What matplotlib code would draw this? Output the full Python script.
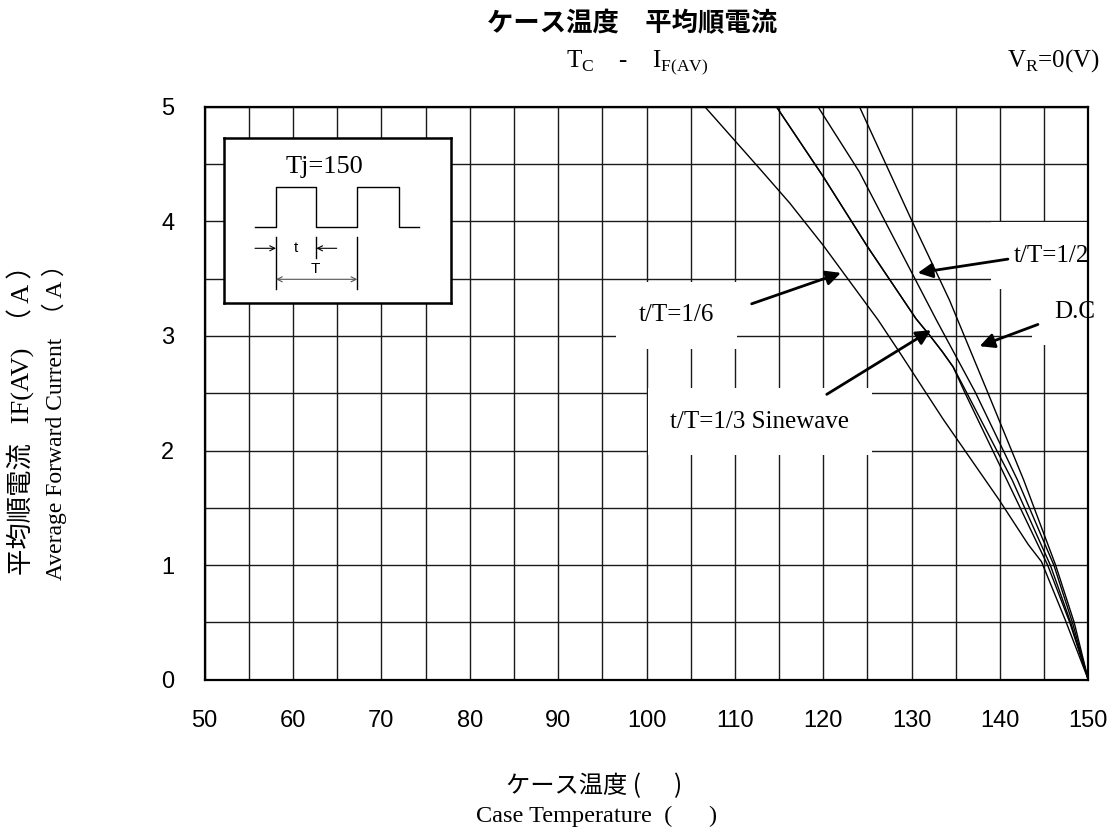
import numpy as np
import matplotlib
matplotlib.use("Agg")
import matplotlib.pyplot as plt
from matplotlib.ticker import MultipleLocator

plt.rcParams["font.family"] = ["Liberation Sans", "Noto Sans CJK JP"]
plt.rcParams["mathtext.fontset"] = "custom"
plt.rcParams["mathtext.rm"] = "Liberation Serif"

SERIF = ["Liberation Serif", "Noto Sans CJK JP"]
GOTHIC = ["Noto Sans CJK JP", "DejaVu Sans"]

# curves: case temperature (C) vs average forward current (A)
t16_T = [106.6, 112.8, 116.2, 120.0, 126.2, 128.7, 133.6, 139.9, 143.2, 144.7, 147.4, 150.0]
t16_I = [5.0, 4.46, 4.16, 3.79, 3.14, 2.85, 2.27, 1.57, 1.18, 1.03, 0.52, 0.0]

t13_T = [114.7, 120.0, 125.0, 130.5, 132.1, 133.5, 134.7, 136.0, 140.8, 145.4, 147.9, 150.0]
t13_I = [5.0, 4.39, 3.78, 3.15, 3.0, 2.86, 2.73, 2.51, 1.74, 1.0, 0.5, 0.0]

sine_T = [114.7, 120.0, 125.0, 130.5, 132.1, 133.5, 134.7, 136.2, 141.4, 145.7, 148.0, 150.0]
sine_I = [5.0, 4.39, 3.78, 3.15, 3.0, 2.86, 2.73, 2.51, 1.74, 1.0, 0.5, 0.0]

t12_T = [119.4, 124.1, 132.8, 137.2, 142.0, 146.1, 148.2, 150.0]
t12_I = [5.0, 4.43, 3.14, 2.51, 1.74, 1.0, 0.5, 0.0]

dc_T = [124.1, 130.0, 133.2, 134.3, 138.6, 142.7, 146.3, 148.4, 150.0]
dc_I = [5.0, 4.01, 3.49, 3.31, 2.51, 1.74, 1.0, 0.5, 0.0]

curves = [(t16_T, t16_I), (t13_T, t13_I), (sine_T, sine_I), (t12_T, t12_I), (dc_T, dc_I)]

# callouts: label, text position, arrow tail, arrow tip (data coords)
labels = ["t/T=1/2", "D.C", "t/T=1/6", "t/T=1/3 Sinewave"]
label_xy = [(145.8, 3.70), (148.5, 3.21), (103.4, 3.18), (112.8, 2.25)]
tail_xy = [(140.9, 3.67), (144.3, 3.10), (111.9, 3.28), (120.4, 2.49)]
tip_xy = [(130.7, 3.55), (137.7, 2.91), (122.0, 3.55), (132.2, 3.05)]

x_ticks = [50, 60, 70, 80, 90, 100, 110, 120, 130, 140, 150]
y_ticks = [0, 1, 2, 3, 4, 5]

W, H = 1112, 832
fig = plt.figure(figsize=(W / 100, H / 100), dpi=100)


def fx(px):
    return px / W


def fy(py):
    return 1 - py / H


ax = fig.add_axes([fx(204.7), fy(679.7), fx(1088.3 - 204.7), (679.7 - 106.7) / H])

for T, I in curves:
    ax.plot(T, I, color="black", lw=1.0, zorder=3)

ax.set_xlim(50, 150)
ax.set_ylim(0, 5)
ax.set_xticks(x_ticks)
ax.set_yticks(y_ticks)
ax.xaxis.set_minor_locator(MultipleLocator(5))
ax.yaxis.set_minor_locator(MultipleLocator(0.5))
ax.tick_params(which="both", length=0)
ax.tick_params(axis="x", pad=22, labelsize=17)
ax.tick_params(axis="y", pad=22, labelsize=17)
ax.grid(which="both", color="#1a1a1a", lw=1.0)
ax.set_axisbelow(True)
for s in ax.spines.values():
    s.set_linewidth(1.6)

for lab, (tx, ty), (ax0, ay0), (ax1, ay1) in zip(labels, label_xy, tail_xy, tip_xy):
    ax.text(tx, ty, lab, family=SERIF, fontsize=18, ha="center", va="center",
            zorder=2, bbox=dict(boxstyle="square,pad=0.9", fc="white", ec="none"))
    ax.annotate("", xy=(ax1, ay1), xytext=(ax0, ay0), zorder=4,
                arrowprops=dict(arrowstyle="-|>", color="black", lw=2.0,
                                mutation_scale=22, shrinkA=0, shrinkB=0))

# inset with the pulse diagram, drawn in pixel units of the box
bx0, by0, bx1, by1 = 224.3, 138.3, 450.7, 303.3
ins = fig.add_axes([fx(bx0), fy(by1), fx(bx1 - bx0), (by1 - by0) / H])
ins.set_xlim(0, bx1 - bx0)
ins.set_ylim(by1 - by0, 0)
ins.set_xticks([])
ins.set_yticks([])
ins.set_facecolor("white")
for s in ins.spines.values():
    s.set_linewidth(1.8)

wave_x = [30.7, 51.7, 51.7, 92, 92, 133, 133, 174.4, 174.4, 194.4]
wave_y = [89, 89, 48.4, 48.4, 89, 89, 48.4, 48.4, 89, 89]
ins.plot(wave_x, wave_y, color="black", lw=1.0)
ins.plot([51.7, 51.7], [98.4, 151], color="black", lw=1.0)
ins.plot([92, 92], [98.4, 120], color="black", lw=1.0)
ins.plot([133, 133], [98.4, 151], color="black", lw=1.0)
thin = dict(arrowstyle="->", color="black", lw=0.8, shrinkA=0, shrinkB=0, mutation_scale=9)
ins.annotate("", xy=(51.7, 110), xytext=(30.7, 110), arrowprops=thin)
ins.annotate("", xy=(92, 110), xytext=(112.4, 110), arrowprops=thin)
ins.annotate("", xy=(133, 141), xytext=(51.7, 141),
             arrowprops=dict(thin, arrowstyle="<->", color="#555555"))
ins.text(71.7, 110, "t", fontsize=11, ha="center", va="center")
ins.text(91.4, 131, "T", fontsize=11, ha="center", va="center")
ins.text(99.7, 28.2, "Tj=150", family=SERIF, fontsize=19, ha="center", va="center")

# titles and axis labels
fig.text(fx(632), fy(24), "ケース温度　平均順電流", family=GOTHIC, fontsize=19,
         fontweight="bold", ha="center", va="center")
fig.text(fx(566), fy(67), r"T$_{\mathrm{C}}$    -    I$_{\mathrm{F(AV)}}$",
         family=SERIF, fontsize=18, ha="left", va="baseline")
fig.text(fx(1100), fy(67), r"V$_{\mathrm{R}}$=0(V)", family=SERIF, fontsize=18,
         ha="right", va="baseline")

fig.text(fx(21), fy(252), "平均順電流   IF(AV)  （ A ）", family=SERIF, fontsize=19,
         rotation=90, ha="center", va="top")
fig.text(fx(54), fy(252), "Average Forward Current  （ A ）", family=SERIF, fontsize=17,
         rotation=90, ha="center", va="top")

fig.text(fx(594), fy(786), "ケース温度 (      )", family=GOTHIC, fontsize=17.5,
         ha="center", va="center")
fig.text(fx(597), fy(816), "Case Temperature  (      )", family=SERIF, fontsize=17.5,
         ha="center", va="center")

fig.savefig("out.png", dpi=100)
